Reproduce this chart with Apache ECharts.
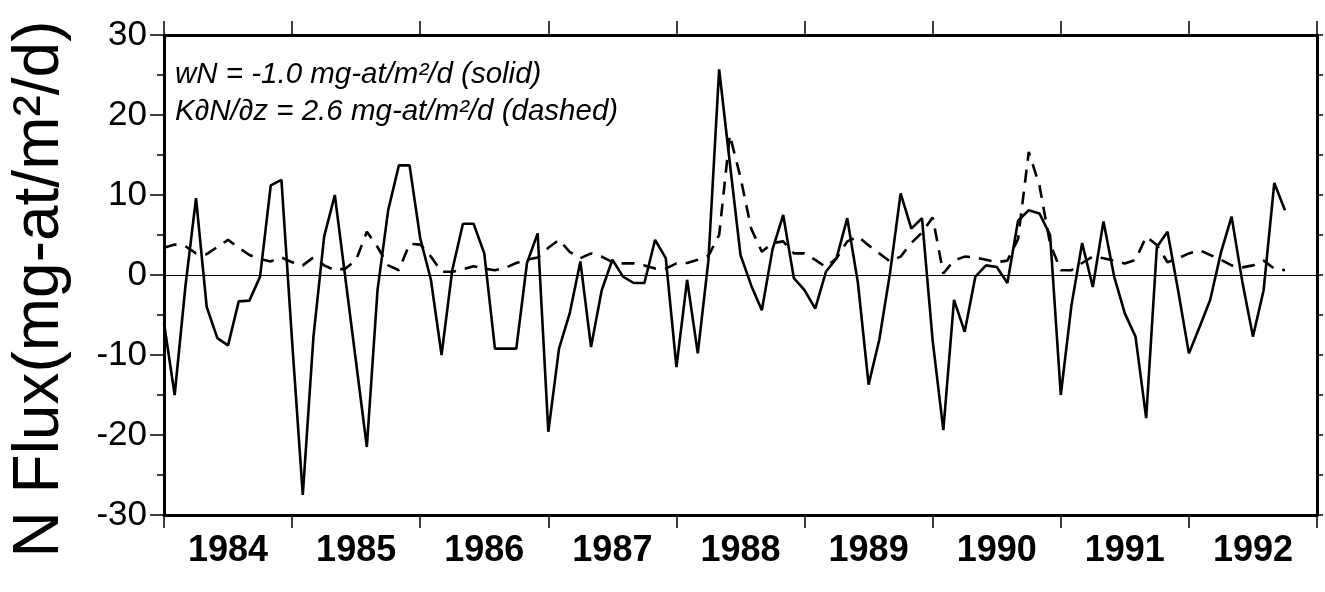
<!DOCTYPE html>
<html>
<head>
<meta charset="utf-8">
<script src="https://cdn.jsdelivr.net/npm/echarts@6/dist/echarts.min.js"></script>
<style>
html,body{margin:0;padding:0;background:#fff;}
#chart{width:1325px;height:592px;}
</style>
</head>
<body>
<div id="chart"></div>
<script>
// ---- data ----
const startYear = 1984;               // first monthly sample at Jan 1984
const yearLabels = [1984, 1985, 1986, 1987, 1988, 1989, 1990, 1991, 1992];
const yTicks = [-30, -20, -10, 0, 10, 20, 30];
const annotation1 = 'wN = -1.0 mg-at/m²/d (solid)';
const annotation2 = 'K∂N/∂z = 2.6 mg-at/m²/d (dashed)';
const yName = 'N Flux(mg-at/m²/d)';

// advective flux wN (solid), monthly
const wN = [
  -6.0, -15.0, -1.5, 9.6, -4.0, -7.9, -8.8, -3.3, -3.2, -0.2,
  11.2, 11.9, -8.3, -27.5, -7.7, 4.8, 10.0, -0.5, -11.0, -21.5,
  -1.9, 8.1, 13.7, 13.7, 4.6, -0.6, -10.0, 0.6, 6.4, 6.4,
  2.7, -9.2, -9.2, -9.2, 1.5, 5.2, -19.6, -9.2, -4.8, 1.7,
  -9.0, -1.9, 1.9, -0.2, -1.0, -1.0, 4.4, 2.1, -11.5, -0.6,
  -9.8, 1.9, 25.7, 14.0, 2.5, -1.3, -4.4, 3.2, 7.5, -0.4,
  -1.9, -4.2, 0.4, 2.1, 7.1, -1.0, -13.7, -8.1, 0.2, 10.2,
  5.8, 7.1, -8.2, -19.4, -3.1, -7.1, -0.2, 1.2, 1.0, -1.0,
  6.8, 8.1, 7.7, 5.0, -15.0, -3.8, 4.0, -1.5, 6.7, -0.2,
  -4.8, -7.7, -17.9, 3.5, 5.4, -2.0, -9.8, -6.5, -3.1, 2.8,
  7.3, -0.8, -7.7, -1.9, 11.5, 8.1
];

// diffusive flux K dN/dz (dashed), monthly
const KdNdz = [
  3.4, 3.8, 3.6, 2.7, 2.6, 3.5, 4.4, 3.4, 2.5, 2.0,
  1.7, 2.2, 1.6, 1.2, 2.2, 1.2, 0.6, 0.8, 1.9, 5.4,
  3.5, 1.2, 0.6, 3.9, 3.8, 2.3, 0.4, 0.4, 0.7, 1.1,
  0.8, 0.6, 0.9, 1.5, 1.9, 2.2, 3.4, 4.4, 2.9, 2.1,
  2.7, 2.3, 1.6, 1.45, 1.45, 1.2, 0.8, 0.8, 1.45, 1.5,
  1.9, 2.4, 5.0, 17.5, 12.2, 5.8, 2.9, 4.0, 4.2, 2.7,
  2.7, 1.9, 1.0, 2.1, 4.2, 4.8, 3.7, 2.7, 1.7, 2.3,
  4.0, 5.3, 7.2, 0.2, 1.8, 2.3, 2.2, 1.9, 1.6, 1.8,
  4.5, 15.4, 11.2, 3.9, 0.6, 0.6, 1.5, 2.3, 2.1, 1.8,
  1.45, 1.9, 4.8, 3.75, 1.6, 2.1, 2.7, 3.1, 2.5, 1.9,
  1.2, 0.95, 1.2, 1.8, 0.8, 0.6
];

// ---- derived ----
const tOf = i => startYear + i / 12;
const solidData = wN.map((v, i) => [tOf(i), v]);
const dashData = KdNdz.map((v, i) => [tOf(i), v]);
const yearEdges = yearLabels.concat([yearLabels[yearLabels.length - 1] + 1]);
const yearMids = yearLabels.map(y => y + 0.5);
const xMin = yearEdges[0], xMax = yearEdges[yearEdges.length - 1];

const chart = echarts.init(document.getElementById('chart'), null, {renderer: 'canvas'});
const frameLine = {show: true, onZero: false, lineStyle: {color: '#000', width: 3}};
const font = "'Liberation Sans', Arial, Helvetica, sans-serif";

chart.setOption({
  animation: false,
  backgroundColor: '#fff',
  grid: {left: 162, right: 8, top: 35, bottom: 77, containLabel: false},
  xAxis: [
    {
      type: 'value', min: xMin, max: xMax, position: 'bottom',
      axisLine: frameLine,
      axisTick: {show: true, customValues: yearEdges, length: 13, lineStyle: {color: '#000', width: 1.5}},
      axisLabel: {
        show: true, customValues: yearMids, margin: 18,
        formatter: v => String(Math.floor(v)),
        color: '#000', fontSize: 36, fontWeight: 'bold',
        fontFamily: font
      },
      splitLine: {show: false}
    },
    {
      type: 'value', min: xMin, max: xMax, position: 'top',
      axisLine: frameLine,
      axisTick: {show: true, customValues: yearEdges, length: 14, lineStyle: {color: '#000', width: 1.5}},
      axisLabel: {show: false},
      splitLine: {show: false}
    }
  ],
  yAxis: [
    {
      type: 'value', min: yTicks[0], max: yTicks[yTicks.length - 1], interval: 10, position: 'left',
      axisLine: frameLine,
      axisTick: {show: true, length: 14, lineStyle: {color: '#000', width: 1.5}},
      minorTick: {show: true, splitNumber: 2, length: 7, lineStyle: {color: '#000', width: 1.5}},
      axisLabel: {color: '#000', fontSize: 35, margin: 17, fontFamily: font},
      splitLine: {show: false},
      name: yName, nameLocation: 'middle', nameRotate: 90, nameGap: 92,
      nameTextStyle: {color: '#000', fontSize: 64, fontFamily: font, padding: [0, 28, 0, 0]}
    },
    {
      type: 'value', min: yTicks[0], max: yTicks[yTicks.length - 1], interval: 5, position: 'right',
      axisLine: frameLine,
      axisTick: {show: true, length: 6, lineStyle: {color: '#000', width: 1.5}},
      axisLabel: {show: false},
      splitLine: {show: false}
    }
  ],
  series: [
    {
      name: 'wN', type: 'line', data: solidData, xAxisIndex: 0, yAxisIndex: 0,
      showSymbol: false, symbol: 'none',
      lineStyle: {color: '#000', width: 2.6, type: 'solid'},
      z: 3,
      markLine: {
        silent: true, symbol: 'none', label: {show: false},
        lineStyle: {color: '#000', width: 1, type: 'solid'},
        data: [{yAxis: 0}]
      }
    },
    {
      name: 'KdNdz', type: 'line', data: dashData, xAxisIndex: 0, yAxisIndex: 0,
      showSymbol: false, symbol: 'none',
      lineStyle: {color: '#000', width: 2.6, type: [13, 9]},
      z: 2
    }
  ],
  graphic: [
    {
      type: 'text', left: 175, top: 60,
      style: {text: annotation1, fill: '#000', font: 'italic 29.5px ' + font}
    },
    {
      type: 'text', left: 175, top: 97,
      style: {text: annotation2, fill: '#000', font: 'italic 29.5px ' + font}
    }
  ]
});
</script>
</body>
</html>
